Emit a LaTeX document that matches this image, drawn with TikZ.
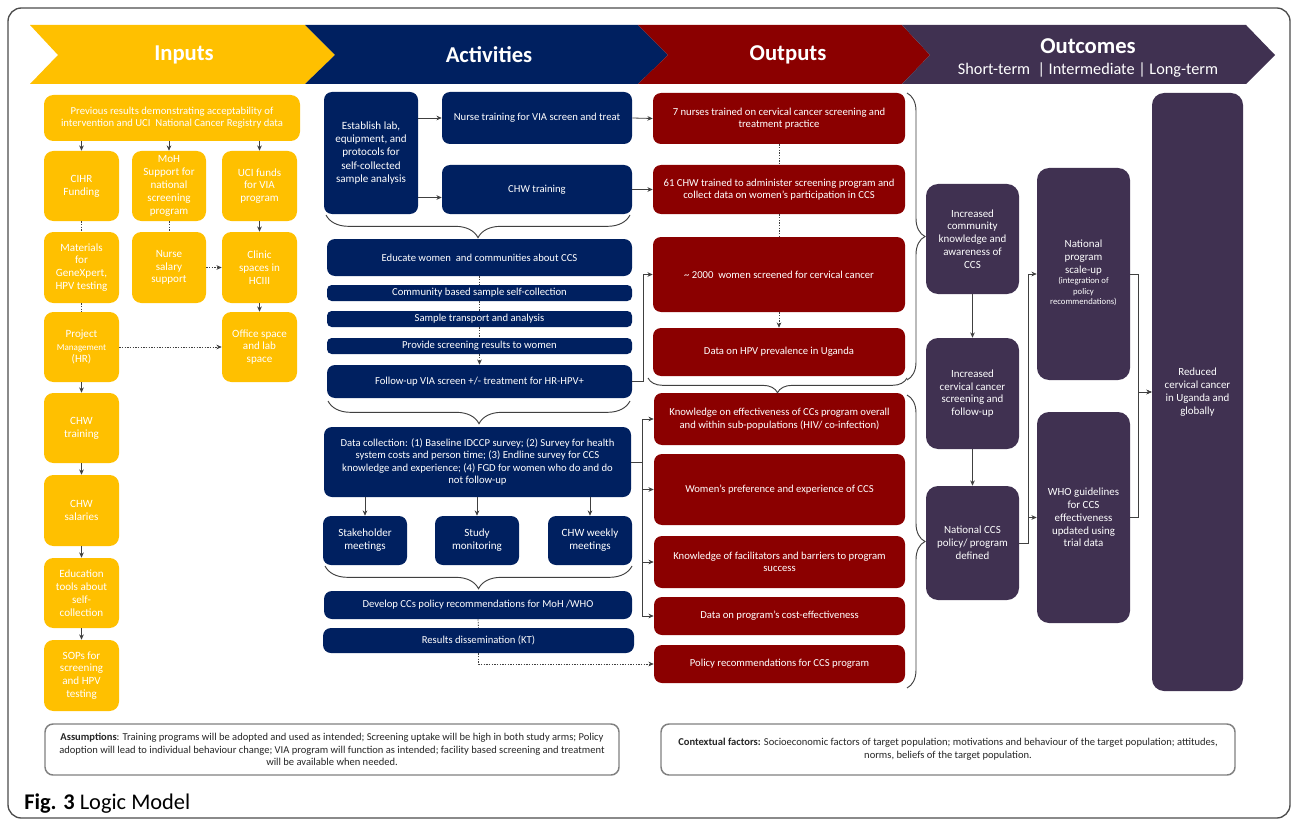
\documentclass[tikz,border=0pt]{standalone}
\usepackage{fontspec}
\setmainfont{Carlito}
\usetikzlibrary{arrows.meta,decorations.pathreplacing}
\definecolor{cyel}{HTML}{FFC000}
\definecolor{cnav}{HTML}{002060}
\definecolor{cred}{HTML}{8B0000}
\definecolor{cpur}{HTML}{403151}
\definecolor{cline}{HTML}{404040}
\newcommand\bx[7]{\node[#1, inner sep=0pt, minimum width={(#5-#3)*0.75pt}, minimum height={(#6-#4)*0.75pt}] (#2) at ({(#3+#5)/2},{(#4+#6)/2}) {#7};}
\begin{document}
\begin{tikzpicture}[x=0.75pt,y=-0.75pt,
  inp/.style={fill=cyel, rounded corners=7pt, text=white, align=center, font=\fontsize{8.3}{9.6}\selectfont},
  act/.style={fill=cnav, rounded corners=6pt, text=white, align=center, font=\fontsize{8}{9.3}\selectfont},
  actthin/.style={act, rounded corners=3.5pt},
  outp/.style={fill=cred, rounded corners=6pt, text=white, align=center, font=\fontsize{8}{9.3}\selectfont},
  outc/.style={fill=cpur, rounded corners=9pt, text=white, align=center, font=\fontsize{8.2}{9.6}\selectfont},
  note/.style={draw=gray, line width=1.1pt, rounded corners=6pt, fill=white, text=black!85, align=center, font=\fontsize{7.9}{9.6}\selectfont},
  arr/.style={draw=cline, line width=0.6pt, -{Stealth[length=4pt,width=3.5pt]}},
  dl/.style={draw=cline, line width=0.6pt, dash pattern=on 1pt off 1pt},
  darr/.style={dl, -{Stealth[length=4pt,width=3.5pt]}},
  brc/.style={draw=cline, line width=0.7pt, decorate, decoration={brace, amplitude=#1}},
  ttl/.style={text=white, font=\bfseries\fontsize{17}{20}\selectfont}
]
\useasboundingbox (0,0) rectangle (1292,820);
\fill[white] (0,0) rectangle (1292,820);
\draw[black!70, line width=1pt, rounded corners=10pt] (8,8) rectangle (1290,818);

% header chevrons
\fill[cyel] (30,25) -- (305,25) -- (335,55) -- (305,84) -- (30,84) -- (58,55) -- cycle;
\fill[cnav] (305,25) -- (638,25) -- (668,55) -- (638,84) -- (305,84) -- (335,55) -- cycle;
\fill[cred] (638,25) -- (902,25) -- (930,55) -- (902,84) -- (638,84) -- (668,55) -- cycle;
\fill[cpur] (902,25) -- (1246,25) -- (1275,55) -- (1246,84) -- (902,84) -- (930,55) -- cycle;
\node[ttl] (hin) at (184,55) {Inputs};
\node[ttl] (hact) at (489,55) {Activities};
\node[ttl] (hout) at (788,55) {Outputs};
\node[ttl] (hoc) at (1088,46) {Outcomes};
\node[text=white, font=\fontsize{12.2}{14}\selectfont] (hsub) at (1088,70) {Short-term~~|~Intermediate~|~Long-term};

% inputs
\bx{inp, font=\fontsize{8}{9.3}\selectfont}{prev}{44}{95}{300}{141}{Previous results demonstrating acceptability of\\intervention and UCI~~National Cancer Registry data}
\bx{inp}{cihr}{44}{151}{119}{221}{CIHR\\Funding}
\bx{inp}{moh}{132}{151}{206}{221}{MoH\\Support for\\national\\screening\\program}
\bx{inp}{uci}{222}{151}{297}{221}{UCI funds\\for VIA\\program}
\bx{inp}{mat}{44}{232}{119}{303}{Materials\\for\\GeneXpert,\\HPV testing}
\bx{inp}{nsal}{132}{232}{206}{303}{Nurse\\salary\\support}
\bx{inp}{clin}{222}{232}{297}{303}{Clinic\\spaces in\\HCIII}
\bx{inp}{proj}{44}{312}{119}{382}{Project\\{\fontsize{6.8}{8}\selectfont Management}\\(HR)}
\bx{inp}{offsp}{222}{312}{297}{382}{Office space\\and lab\\space}
\bx{inp}{chwt}{44}{393}{119}{463}{CHW\\training}
\bx{inp}{chws}{44}{475}{119}{546}{CHW\\salaries}
\bx{inp}{edu}{44}{558}{119}{628}{Education\\tools about\\self-\\collection}
\bx{inp}{sop}{44}{640}{119}{711}{SOPs for\\screening\\and HPV\\testing}

\draw[arr] (prev.south -| cihr.north) -- (cihr.north);
\draw[arr] (prev.south -| moh.north) -- (moh.north);
\draw[arr] (prev.south -| uci.north) -- (uci.north);
\draw[dl] (cihr.south) -- (mat.north);
\draw[dl] (moh.south) -- (nsal.north);
\draw[arr] (uci.south) -- (clin.north);
\draw[darr] (nsal.east) -- (clin.west);
\draw[arr] (clin.south) -- (offsp.north);
\draw[dl] (mat.south) -- (proj.north);
\draw[darr] (proj.east) -- (offsp.west);
\draw[arr] (proj.south) -- (chwt.north);
\draw[arr] (chwt.south) -- (chws.north);
\draw[arr] (chws.south) -- (edu.north);
\draw[arr] (edu.south) -- (sop.north);

% activities
\bx{act, font=\fontsize{8.3}{9.8}\selectfont}{est}{324}{92}{418}{214}{Establish lab,\\equipment, and\\protocols for\\self-collected\\sample analysis}
\bx{act}{nurt}{442}{92}{632}{144}{Nurse training for VIA screen and treat}
\bx{act}{chwtr}{442}{165}{632}{214}{CHW training}
\bx{act}{educ}{327}{239}{632}{276}{Educate women~~and communities about CCS}
\bx{actthin}{comm}{327}{285}{632}{301}{Community based sample self-collection}
\bx{actthin}{trans}{327}{311}{632}{327}{Sample transport and analysis}
\bx{actthin}{prov}{327}{338}{632}{354}{Provide screening results to women}
\bx{act}{foll}{327}{365}{632}{398}{Follow-up VIA screen +/- treatment for HR-HPV+}
\bx{act}{datc}{324}{427}{631}{497}{Data collection: (1) Baseline IDCCP survey; (2) Survey for health\\system costs and person time; (3) Endline survey for CCS\\knowledge and experience; (4) FGD for women who do and do\\not follow-up}
\bx{act, font=\fontsize{8.3}{9.8}\selectfont}{stak}{323}{516}{407}{565}{Stakeholder\\meetings}
\bx{act, font=\fontsize{8.3}{9.8}\selectfont}{stud}{435}{516}{519}{565}{Study\\monitoring}
\bx{act, font=\fontsize{8.3}{9.8}\selectfont}{chww}{548}{516}{632}{565}{CHW weekly\\meetings}
\bx{act}{dev}{324}{591}{632}{619}{Develop CCs policy recommendations for MoH /WHO}
\bx{act}{res}{323}{628}{634}{653}{Results dissemination (KT)}

\path ([yshift=-6pt]chwtr.west) coordinate (chwin);
\draw[arr] (est.east |- nurt.west) -- (nurt.west);
\draw[arr] (chwin -| est.east) -- (chwin);
\draw[dl] (educ.south) -- (comm.north);
\draw[dl] (comm.south) -- (trans.north);
\draw[dl] (trans.south) -- (prov.north);
\draw[darr] (prov.south) -- (foll.north);
\draw[arr] (datc.south -| stak.north) -- (stak.north);
\draw[arr] (datc.south -| stud.north) -- (stud.north);
\draw[arr] (datc.south -| chww.north) -- (chww.north);
\draw[dl] (dev.south) -- (res.north);

\draw[brc=17pt] (630,215) -- (326,215);
\draw[brc=17pt] (630,401) -- (328,401);
\draw[brc=17pt] (632,566) -- (325,566);

% outputs
\bx{outp}{o1}{653}{93}{905}{144}{7 nurses trained on cervical cancer screening and\\treatment practice}
\bx{outp}{o2}{653}{165}{905}{214}{61 CHW trained to administer screening program and\\collect data on women’s participation in CCS}
\bx{outp}{o3}{653}{237}{905}{312}{\textasciitilde{} 2000~~women screened for cervical cancer}
\bx{outp}{o4}{653}{328}{905}{376}{Data on HPV prevalence in Uganda}
\bx{outp}{o5}{654}{393}{905}{445}{Knowledge on effectiveness of CCs program overall\\and within sub-populations (HIV/ co-infection)}
\bx{outp}{o6}{654}{454}{905}{525}{Women’s preference and experience of CCS}
\bx{outp}{o7}{654}{536}{905}{588}{Knowledge of facilitators and barriers to program\\success}
\bx{outp}{o8}{654}{597}{905}{635}{Data on program’s cost-effectiveness}
\bx{outp}{o9}{654}{645}{905}{683}{Policy recommendations for CCS program}

\draw[arr] (nurt.east) -- (o1.west);
\draw[arr] (chwtr.east) -- (o2.west);
\draw[arr] (foll.east) -- ++(11,0) |- (o3.west);
\draw[arr] (datc.east) -- ++(11,0) |- (o5.west);
\draw[arr] (datc.east) -- ++(11,0) |- (o6.west);
\draw[arr] (datc.east) -- ++(11,0) |- (o7.west);
\draw[arr] (datc.east) -- ++(11,0) |- (o8.west);
\draw[darr] (res.south) |- (o9.west);
\draw[dl] (o1.south) -- (o2.north);
\draw[dl] (o2.south) -- (o3.north);
\draw[darr] (o3.south) -- (o4.north);

\draw[brc=11pt] (907,378) -- (648,378);
\draw[brc=13.5pt] (907,93) -- (907,380);
\draw[brc=13.5pt] (907,395) -- (907,688);

% outcomes
\bx{outc}{c1}{926}{184}{1019}{294}{Increased\\community\\knowledge and\\awareness of\\CCS}
\bx{outc}{c2}{926}{338}{1019}{449}{Increased\\cervical cancer\\screening and\\follow-up}
\bx{outc}{c3}{926}{486}{1019}{600}{National CCS\\policy/ program\\defined}
\bx{outc}{c4}{1037}{168}{1130}{380}{National\\program\\scale-up\\{\fontsize{6.5}{8}\selectfont\begin{tabular}{@{}c@{}}(integration of\\policy\\recommendations)\end{tabular}}}
\bx{outc}{c5}{1037}{412}{1130}{623}{WHO guidelines\\for CCS\\effectiveness\\updated using\\trial data}
\bx{outc}{c6}{1152}{93}{1243}{691}{Reduced\\cervical cancer\\in Uganda and\\globally}

\draw[arr] (c1.south) -- (c2.north);
\draw[arr] (c2.south) -- (c3.north);
\draw[arr] (c3.east) -- ++(9,0) |- (c4.west);
\draw[arr] (c3.east) -- ++(9,0) |- (c5.west);
\draw[arr] (c4.east) -- ++(8,0) |- (c6.west);
\draw[arr] (c5.east) -- ++(8,0) |- (c6.west);

% notes
\bx{note}{asm}{45}{724}{619}{775}{\textbf{Assumptions}: Training programs will be adopted and used as intended; Screening uptake will be high in both study arms; Policy\\adoption will lead to individual behaviour change; VIA program will function as intended; facility based screening and treatment\\will be available when needed.}
\bx{note}{ctx}{661}{724}{1235}{775}{\textbf{Contextual factors:} Socioeconomic factors of target population; motivations and behaviour of the target population; attitudes,\\norms, beliefs of the target population.}

\node[anchor=base west, inner sep=0pt, font=\fontsize{16.8}{20}\selectfont] (cap) at (24,809) {\textbf{Fig. 3} Logic Model};
\end{tikzpicture}
\end{document}
